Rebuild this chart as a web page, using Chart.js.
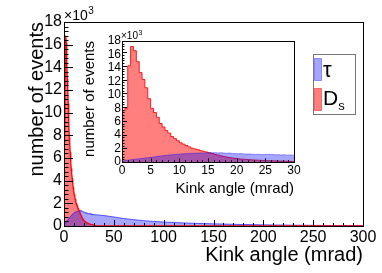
<!DOCTYPE html>
<html><head><meta charset="utf-8">
<script src="https://cdn.jsdelivr.net/npm/chart.js@4/dist/chart.umd.min.js"></script>
<style>
html,body{margin:0;padding:0;background:#fff;}
#wrap{position:relative;width:382px;height:273px;overflow:hidden;}
canvas{position:absolute;left:0;top:0;}
</style>
</head><body>
<div id="wrap"><canvas id="main" width="382" height="273"></canvas><canvas id="inset" width="382" height="273"></canvas></div>
<script>
// ---------------- data (thousands of events per 0.5 mrad bin) ----------------
const binWidth = 0.5; // mrad
const dsInset = [7.5, 7.8, 14.0, 16.8, 16.2, 14.6, 13.0, 12.0, 10.8, 9.2,
  7.8, 7.2, 6.5, 5.6, 5.1, 4.6, 4.2, 3.7, 3.4, 3.1,
  2.8, 2.6, 2.4, 2.2, 2.0, 1.9, 1.8, 1.65, 1.55, 1.45,
  1.35, 1.25, 1.1, 1.0, 0.9, 0.8, 0.72, 0.65, 0.58, 0.52,
  0.47, 0.43, 0.4, 0.36, 0.33, 0.3, 0.28, 0.26, 0.24, 0.22,
  0.2, 0.18, 0.17, 0.16, 0.14, 0.13, 0.12, 0.11, 0.1, 0.09];
const tauInset = [0.15, 0.25, 0.3, 0.35, 0.4, 0.45, 0.5, 0.55, 0.6, 0.65,
  0.7, 0.75, 0.82, 0.88, 0.93, 0.98, 1.02, 1.06, 1.1, 1.13,
  1.16, 1.2, 1.22, 1.25, 1.27, 1.28, 1.3, 1.31, 1.32, 1.33,
  1.34, 1.33, 1.36, 1.32, 1.35, 1.3, 1.28, 1.3, 1.25, 1.22,
  1.2, 1.22, 1.18, 1.15, 1.17, 1.12, 1.1, 1.13, 1.1, 1.08,
  1.12, 1.1, 1.08, 1.05, 1.07, 1.02, 1.05, 1.0, 1.02, 1.0];
// tail of the tau distribution beyond 30 mrad (main plot)
const tauTailX = [35, 40, 45, 50, 55, 60, 70, 80, 90, 100, 110, 120, 130, 140, 150, 160, 170, 180, 190, 200,
  210, 220, 230, 240, 250, 260, 270, 280, 290, 300];
const tauTailY = [0.97, 0.92, 0.86, 0.8, 0.72, 0.66, 0.56, 0.47, 0.4, 0.35, 0.31, 0.27, 0.24, 0.21, 0.19, 0.17, 0.15, 0.13, 0.12, 0.1,
  0.09, 0.08, 0.07, 0.065, 0.055, 0.05, 0.045, 0.04, 0.035, 0.03];
const dsTailX = [30.5, 300];
const dsTailY = [0, 0];
const mainXTicks = [0, 50, 100, 150, 200, 250, 300];
const mainYTicks = [0, 2, 4, 6, 8, 10, 12, 14, 16, 18];       // ×10^3
const insetXTicks = [0, 5, 10, 15, 20, 25, 30];
const insetYTicks = [0, 2, 4, 6, 8, 10, 12, 14, 16];          // ×10^3
const xTitle = 'Kink angle (mrad)';
const yTitle = 'number of events';

// ---------------- helpers ----------------
const FONT = '"Liberation Sans", Arial, Helvetica, sans-serif';
Chart.defaults.font.family = FONT;
Chart.defaults.color = '#000';
Chart.defaults.animation = false;

const RED_FILL = 'rgba(255,0,0,0.5)';
const BLUE_FILL = 'rgba(0,0,255,0.35)';

function histPoints(vals) { // left bin edges for stepped drawing
  const pts = vals.map((v, i) => ({x: i * binWidth, y: v * 1000}));
  pts.push({x: vals.length * binWidth, y: vals[vals.length - 1] * 1000});
  return pts;
}
function centerPoints(vals) {
  return vals.map((v, i) => ({x: (i + 0.5) * binWidth, y: v * 1000}));
}
function tailPoints(xs, ys) { return xs.map((x, i) => ({x: x, y: ys[i] * 1000})); }

function drawTicks(ctx, chart, o) {
  const a = chart.chartArea, xs = chart.scales.x, ys = chart.scales.y;
  ctx.save();
  ctx.strokeStyle = '#000';
  ctx.lineWidth = 1;
  ctx.beginPath();
  for (let v = xs.min; v <= xs.max + 1e-9; v += o.xMinor) {
    const p = Math.round(xs.getPixelForValue(v)) + 0.5;
    const major = Math.abs(v / o.xMajor - Math.round(v / o.xMajor)) < 1e-6;
    const l = major ? o.xLen : o.xLen / 2;
    ctx.moveTo(p, a.bottom); ctx.lineTo(p, a.bottom - l);
  }
  for (let v = ys.min; v <= ys.max + 1e-9; v += o.yMinor) {
    const p = Math.round(ys.getPixelForValue(v)) + 0.5;
    const major = Math.abs(v / o.yMajor - Math.round(v / o.yMajor)) < 1e-6;
    const l = major ? o.yLen : o.yLen / 2;
    ctx.moveTo(a.left, p); ctx.lineTo(a.left + l, p);
  }
  ctx.stroke();
  ctx.strokeRect(Math.round(a.left) + 0.5, Math.round(a.top) + 0.5, Math.round(a.right - a.left), Math.round(a.bottom - a.top));
  ctx.restore();
}

function drawExp(ctx, x, y, size) {
  ctx.save();
  ctx.fillStyle = '#000';
  ctx.textAlign = 'left'; ctx.textBaseline = 'alphabetic';
  ctx.font = size + 'px ' + FONT;
  ctx.fillText('\u00d710', x, y);
  const w = ctx.measureText('\u00d710').width;
  ctx.font = Math.round(size * 0.7) + 'px ' + FONT;
  ctx.fillText('3', x + w + 0.5, y - size * 0.42);
  ctx.restore();
}

function drawTitles(ctx, chart, o) {
  const a = chart.chartArea;
  ctx.save();
  ctx.fillStyle = '#000';
  ctx.font = o.size + 'px ' + FONT;
  ctx.textAlign = 'right'; ctx.textBaseline = 'alphabetic';
  ctx.fillText(xTitle, a.right, o.xBase);
  ctx.translate(o.yBase, a.top);
  ctx.rotate(-Math.PI / 2);
  ctx.fillText(yTitle, 0, 0);
  ctx.restore();
}

function scaleCfg(min, max, ticksArr, size, pad, isY) {
  const mult = isY ? 1000 : 1;
  return {
    type: 'linear', min: min, max: max,
    grid: {display: false, drawTicks: false},
    border: {display: false},
    ticks: {
      stepSize: (ticksArr[1] - ticksArr[0]) * mult,
      includeBounds: false,
      autoSkip: false,
      maxRotation: 0,
      padding: pad,
      font: {size: size, family: FONT},
      color: '#000',
      callback: (v) => String(Math.round(v / mult))
    }
  };
}

// ---------------- main chart ----------------
const mainPlugin = {
  id: 'mainDeco',
  afterDraw(chart) {
    const ctx = chart.ctx;
    drawTicks(ctx, chart, {xMinor: 10, xMajor: 50, xLen: 6, yMinor: 400, yMajor: 2000, yLen: 9});
    drawTitles(ctx, chart, {size: 20, xBase: 261, yBase: 43});
    drawExp(ctx, 64, 20, 14);
    // legend
    ctx.save();
    ctx.fillStyle = '#fff';
    ctx.fillRect(313, 54, 42, 60);
    ctx.strokeStyle = '#777';
    ctx.lineWidth = 1;
    ctx.strokeRect(313.5, 54.5, 42, 60);
    ctx.fillStyle = BLUE_FILL; ctx.strokeStyle = 'rgba(0,0,255,0.35)';
    ctx.fillRect(314.5, 58.5, 7, 22); ctx.strokeRect(314.5, 58.5, 7, 22);
    ctx.fillStyle = RED_FILL; ctx.strokeStyle = 'rgba(255,0,0,0.45)';
    ctx.fillRect(314.5, 88.5, 7, 22); ctx.strokeRect(314.5, 88.5, 7, 22);
    ctx.fillStyle = '#000';
    ctx.textAlign = 'left'; ctx.textBaseline = 'alphabetic';
    ctx.font = '22px ' + FONT;
    ctx.fillText('\u03c4', 323, 77);
    ctx.font = '21px ' + FONT;
    ctx.fillText('D', 323, 105);
    const w = ctx.measureText('D').width;
    ctx.font = '13px ' + FONT;
    ctx.fillText('s', 323 + w, 110);
    ctx.restore();
  }
};

new Chart(document.getElementById('main'), {
  type: 'line',
  data: {
    datasets: [
      {label: 'Ds line', data: centerPoints(dsInset).concat(tailPoints(dsTailX, dsTailY)), order: 0,
        borderColor: 'rgba(255,0,0,1)', borderWidth: 1.3, fill: false, pointRadius: 0, tension: 0},
      {label: 'tau', data: centerPoints(tauInset).concat(tailPoints(tauTailX, tauTailY)), order: 1,
        borderColor: 'rgba(40,40,255,0.75)', borderWidth: 1, backgroundColor: BLUE_FILL, fill: 'origin', pointRadius: 0, tension: 0},
      {label: 'Ds', data: centerPoints(dsInset).concat(tailPoints(dsTailX, dsTailY)), order: 2,
        borderColor: 'rgba(255,0,0,0)', borderWidth: 0, backgroundColor: RED_FILL, fill: 'origin', pointRadius: 0, tension: 0}
    ]
  },
  options: {
    responsive: false, animation: false,
    layout: {padding: {left: 0, top: 22, right: 19, bottom: 0}},
    plugins: {legend: {display: false}, tooltip: {enabled: false}},
    scales: {
      x: Object.assign(scaleCfg(0, 300, mainXTicks, 16, 2, false), {afterFit: (s) => { s.height = 47; }}),
      y: Object.assign(scaleCfg(0, 18000, mainYTicks, 16, 2, true), {afterFit: (s) => { s.width = 64; }})
    }
  },
  plugins: [mainPlugin]
});

// ---------------- inset chart ----------------
const insetPlugin = {
  id: 'insetDeco',
  beforeDatasetsDraw(chart) {
    const a = chart.chartArea, ctx = chart.ctx;
    ctx.save(); ctx.fillStyle = '#fff';
    ctx.fillRect(a.left, a.top, a.right - a.left, a.bottom - a.top);
    ctx.restore();
  },
  afterDraw(chart) {
    const ctx = chart.ctx;
    drawTicks(ctx, chart, {xMinor: 1, xMajor: 5, xLen: 3.6, yMinor: 400, yMajor: 2000, yLen: 5});
    drawTitles(ctx, chart, {size: 15, xBase: 193, yBase: 94});
    drawExp(ctx, 121, 39, 10);
  }
};

new Chart(document.getElementById('inset'), {
  type: 'line',
  data: {
    datasets: [
      {label: 'tau', data: histPoints(tauInset), order: 0, stepped: true,
        borderColor: 'rgba(0,0,255,0.35)', borderWidth: 1, backgroundColor: BLUE_FILL, fill: 'origin', pointRadius: 0},
      {label: 'Ds', data: histPoints(dsInset), order: 1, stepped: true,
        borderColor: 'rgba(255,0,0,0.85)', borderWidth: 1, backgroundColor: RED_FILL, fill: 'origin', pointRadius: 0}
    ]
  },
  options: {
    responsive: false, animation: false,
    layout: {padding: {left: 0, top: 41, right: 88, bottom: 0}},
    plugins: {legend: {display: false}, tooltip: {enabled: false}},
    scales: {
      x: Object.assign(scaleCfg(0, 30, insetXTicks, 12, 1, false), {afterFit: (s) => { s.height = 111; }}),
      y: Object.assign(scaleCfg(0, 17600, insetYTicks, 12, 1, true), {afterFit: (s) => { s.width = 122; }})
    }
  },
  plugins: [insetPlugin]
});
</script>
</body></html>
